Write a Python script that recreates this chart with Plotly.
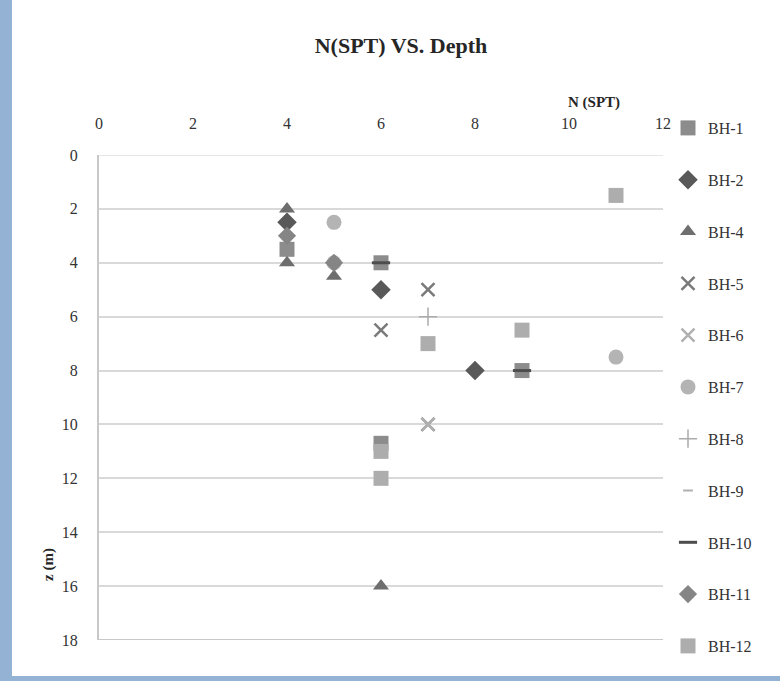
import plotly.graph_objects as go

# N(SPT) readings per borehole: blow counts (x) against depth z in metres (y)
bh1_n = [4, 6, 9, 6]
bh1_z = [3.5, 4, 8, 10.7]
bh2_n = [4, 6, 8]
bh2_z = [2.5, 5, 8]
bh4_n = [4, 4, 5, 6]
bh4_z = [2, 4, 4.5, 16]
bh5_n = [7, 6, 7]
bh5_z = [5, 6.5, 10]
bh6_n = [7]
bh6_z = [10]
bh7_n = [5, 5, 11]
bh7_z = [2.5, 4, 7.5]
bh8_n = [7]
bh8_z = [6]
bh9_n = [9]
bh9_z = [8]
bh10_n = [6, 9]
bh10_z = [4, 8]
bh11_n = [4, 5]
bh11_z = [3, 4]
bh12_n = [11, 7, 9, 6, 6]
bh12_z = [1.5, 7, 6.5, 11, 12]

x_ticks = [0, 2, 4, 6, 8, 10, 12]
y_ticks = [0, 2, 4, 6, 8, 10, 12, 14, 16, 18]

series = [
    ("BH-1", bh1_n, bh1_z, dict(symbol="square", size=15, color="#8c8c8c")),
    ("BH-2", bh2_n, bh2_z, dict(symbol="diamond", size=15, color="#595959")),
    ("BH-4", bh4_n, bh4_z, dict(symbol="triangle-up", size=14, color="#6e6e6e")),
    ("BH-5", bh5_n, bh5_z, dict(symbol="x-thin", size=13, color="#7a7a7a",
                                line=dict(width=2.5, color="#7a7a7a"))),
    ("BH-6", bh6_n, bh6_z, dict(symbol="x-thin", size=13, color="#b0b0b0",
                                line=dict(width=2.5, color="#b0b0b0"))),
    ("BH-7", bh7_n, bh7_z, dict(symbol="circle", size=15, color="#b4b4b4")),
    ("BH-8", bh8_n, bh8_z, dict(symbol="cross-thin", size=13, color="#ababab",
                                line=dict(width=1.5, color="#ababab"))),
    ("BH-9", bh9_n, bh9_z, dict(symbol="line-ew", size=7, color="#b0b0b0",
                                line=dict(width=2, color="#b0b0b0"))),
    ("BH-10", bh10_n, bh10_z, dict(symbol="line-ew", size=13, color="#4d4d4d",
                                   line=dict(width=3, color="#4d4d4d"))),
    ("BH-11", bh11_n, bh11_z, dict(symbol="diamond", size=14, color="#858585")),
    ("BH-12", bh12_n, bh12_z, dict(symbol="square", size=15, color="#adadad")),
]

fig = go.Figure()
for name, n_vals, z_vals, marker in series:
    fig.add_trace(go.Scatter(
        x=n_vals, y=z_vals, mode="markers", name=name,
        marker=marker, legendgroup=name,
    ))

FONT = "Liberation Serif"
TXT = "#333333"

W, H = 780, 681
ML, MR, MT, MB = 99, 117, 155, 41
PW, PH = W - ML - MR, H - MT - MB


def px_x(p):
    return (p - ML) / PW


def px_y(p):
    return (H - MB - p) / PH


fig.update_layout(
    width=W, height=H,
    margin=dict(l=ML, r=MR, t=MT, b=MB),
    paper_bgcolor="white", plot_bgcolor="white",
    font=dict(family=FONT, size=16, color=TXT),
    title=dict(text="<b>N(SPT) VS. Depth</b>", x=401 / W, xref="container",
               xanchor="center", y=1 - 45 / H, yanchor="middle",
               font=dict(family=FONT, size=22, color="#262626")),
    xaxis=dict(range=[0, 12], side="top", tickvals=x_ticks, showgrid=False,
               zeroline=False, showline=False, ticks="",
               ticklabelstandoff=22, tickfont=dict(size=16, color=TXT)),
    yaxis=dict(range=[18, 0], tickvals=y_ticks, showgrid=True,
               gridcolor="#d9d9d9", gridwidth=2, zeroline=False,
               showline=True, linecolor="#c8c8c8", linewidth=2, ticks="",
               ticklabelstandoff=16, tickfont=dict(size=16, color=TXT)),
    legend=dict(x=px_x(668), y=px_y(111), xanchor="left", yanchor="top",
                font=dict(family=FONT, size=16, color=TXT),
                tracegroupgap=28, itemwidth=30, maxheight=H,
                bgcolor="rgba(0,0,0,0)"),
    showlegend=True,
)

# top and bottom borders of the plot area at z = 0 and z = 18
fig.add_shape(type="line", xref="paper", yref="y", x0=0, x1=1, y0=0, y1=0,
              line=dict(color="#e6e6e6", width=2), layer="below")
fig.add_shape(type="line", xref="paper", yref="y", x0=0, x1=1, y0=18, y1=18,
              line=dict(color="#c8c8c8", width=2))

# axis captions
fig.add_annotation(text="<b>N (SPT)</b>", xref="paper", yref="paper",
                   x=px_x(622), y=px_y(92), showarrow=False,
                   font=dict(family=FONT, size=15, color="#262626"))
fig.add_annotation(text="<b>z (m)</b>", xref="paper", yref="paper",
                   x=px_x(38), y=px_y(583), showarrow=False, textangle=-90,
                   font=dict(family=FONT, size=15, color="#262626"))

# blue window frame on the left and bottom edges
frame = "#94b3d4"
fig.add_shape(type="rect", xref="paper", yref="paper",
              x0=px_x(0), x1=px_x(12), y0=px_y(H), y1=px_y(0),
              fillcolor=frame, line=dict(width=0), layer="above")
fig.add_shape(type="rect", xref="paper", yref="paper",
              x0=px_x(0), x1=px_x(W), y0=px_y(H), y1=px_y(676),
              fillcolor=frame, line=dict(width=0), layer="above")

fig.write_html("out.html")
